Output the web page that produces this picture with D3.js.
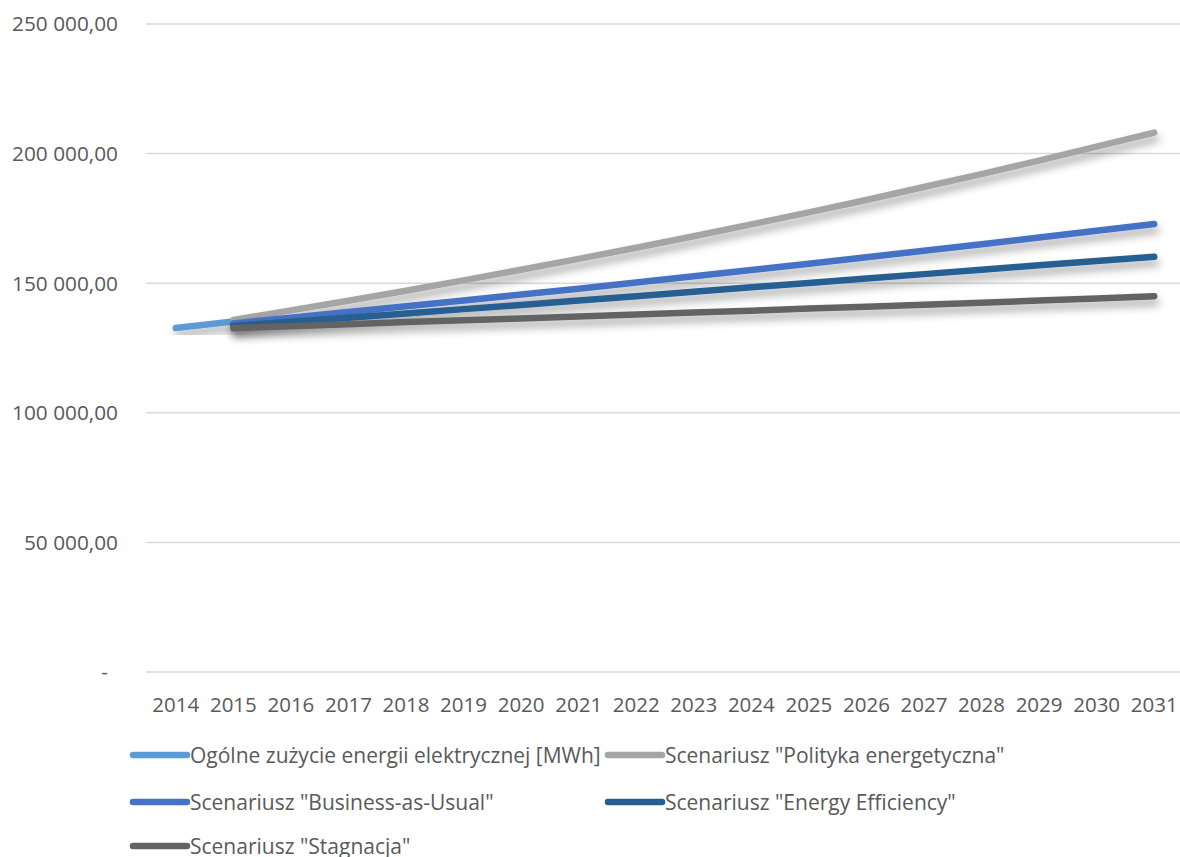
<!DOCTYPE html>
<html>
<head>
<meta charset="utf-8">
<script src="https://cdn.jsdelivr.net/npm/d3@7"></script>
<style>
  html, body { margin: 0; padding: 0; background: #ffffff; }
  svg { display: block; font-family: "Open Sans", sans-serif; }
</style>
</head>
<body>
<div id="chart"></div>
<script>
const years = ['2014','2015','2016','2017','2018','2019','2020','2021','2022','2023','2024','2025','2026','2027','2028','2029','2030','2031'];
const yTicks = [0, 50000, 100000, 150000, 200000, 250000];

const ogolne = [132700, 135200];
const polityka = [null, 135800, 139500, 143200, 147100, 151100, 155200, 159400, 163700, 168100, 172700, 177300, 182100, 187100, 192100, 197300, 202700, 208100];
const bau = [null, 134500, 136700, 138900, 141100, 143300, 145600, 147900, 150300, 152700, 155100, 157500, 160000, 162500, 165000, 167600, 170200, 172800];
const efficiency = [null, 133500, 135100, 136700, 138300, 140000, 141600, 143300, 145000, 146700, 148400, 150100, 151800, 153500, 155200, 156900, 158600, 160200];
const stagnacja = [null, 132600, 133400, 134200, 135000, 135700, 136400, 137200, 137900, 138700, 139400, 140200, 140900, 141700, 142500, 143300, 144100, 145000];

const seriesNames = [
    'Ogólne zużycie energii elektrycznej [MWh]',
    'Scenariusz "Polityka energetyczna"',
    'Scenariusz "Business-as-Usual"',
    'Scenariusz "Energy Efficiency"',
    'Scenariusz "Stagnacja"'
];
const seriesValues = [ogolne, polityka, bau, efficiency, stagnacja];
const seriesColors = ['#5B9BD5', '#A5A5A5', '#4472C4', '#255E91', '#636363'];

const width = 1180;
const height = 857;

const svg = d3.select('#chart').append('svg')
    .attr('width', width)
    .attr('height', height);

const defs = svg.append('defs');
const shadow = defs.append('filter')
    .attr('id', 'shadow')
    .attr('x', '-10%').attr('y', '-50%')
    .attr('width', '130%').attr('height', '250%');
shadow.append('feDropShadow')
    .attr('dx', 2).attr('dy', 6)
    .attr('stdDeviation', 4)
    .attr('flood-color', '#000000')
    .attr('flood-opacity', 0.35);

const x = d3.scalePoint()
    .domain(years)
    .range([175.8, 1154.2]);

const y = d3.scaleLinear()
    .domain([0, 250000])
    .range([672, 24]);

const fmt = (v) => {
    if (v === 0) return '-';
    return d3.format(',.2f')(v).replace(/,/g, ' ').replace('.', ',');
};

// Gridlines
svg.append('g')
    .selectAll('line')
    .data(yTicks)
    .join('line')
    .attr('x1', 146)
    .attr('x2', 1181)
    .attr('y1', (d) => y(d))
    .attr('y2', (d) => y(d))
    .attr('stroke', '#d9d9d9')
    .attr('stroke-width', 1.5);

// Y labels
svg.append('g')
    .selectAll('text')
    .data(yTicks)
    .join('text')
    .attr('x', (d) => d === 0 ? 108 : 118)
    .attr('y', (d) => y(d))
    .attr('dy', '0.36em')
    .attr('text-anchor', 'end')
    .attr('font-size', 20.8)
    .attr('fill', '#595959')
    .text(fmt);

// X labels
svg.append('g')
    .selectAll('text')
    .data(years)
    .join('text')
    .attr('x', (d) => x(d))
    .attr('y', 705)
    .attr('dy', '0.36em')
    .attr('text-anchor', 'middle')
    .attr('font-size', 20.5)
    .attr('fill', '#595959')
    .text((d) => d);

// Lines
const line = d3.line()
    .defined((d) => d != null)
    .x((d, i) => x(years[i]))
    .y((d) => y(d));

svg.append('g')
    .selectAll('path')
    .data(seriesValues)
    .join('path')
    .attr('d', (d) => line(d))
    .attr('fill', 'none')
    .attr('stroke', (d, i) => seriesColors[i])
    .attr('stroke-width', 6.5)
    .attr('stroke-linecap', 'round')
    .attr('stroke-linejoin', 'round')
    .attr('filter', 'url(#shadow)');

// Legend
const legendPos = [
    { lx: 133, ty: 755 },
    { lx: 608, ty: 755 },
    { lx: 133, ty: 802 },
    { lx: 608, ty: 802 },
    { lx: 133, ty: 846 }
];
const legend = svg.append('g')
    .selectAll('g')
    .data(seriesNames)
    .join('g')
    .attr('transform', (d, i) => `translate(${legendPos[i].lx},${legendPos[i].ty})`);

legend.append('line')
    .attr('x1', 0)
    .attr('x2', 54)
    .attr('stroke', (d, i) => seriesColors[i])
    .attr('stroke-width', 6.5)
    .attr('stroke-linecap', 'round');

legend.append('text')
    .attr('x', 57)
    .attr('dy', '0.36em')
    .attr('font-size', 21)
    .attr('fill', '#595959')
    .text((d) => d);
</script>
</body>
</html>
